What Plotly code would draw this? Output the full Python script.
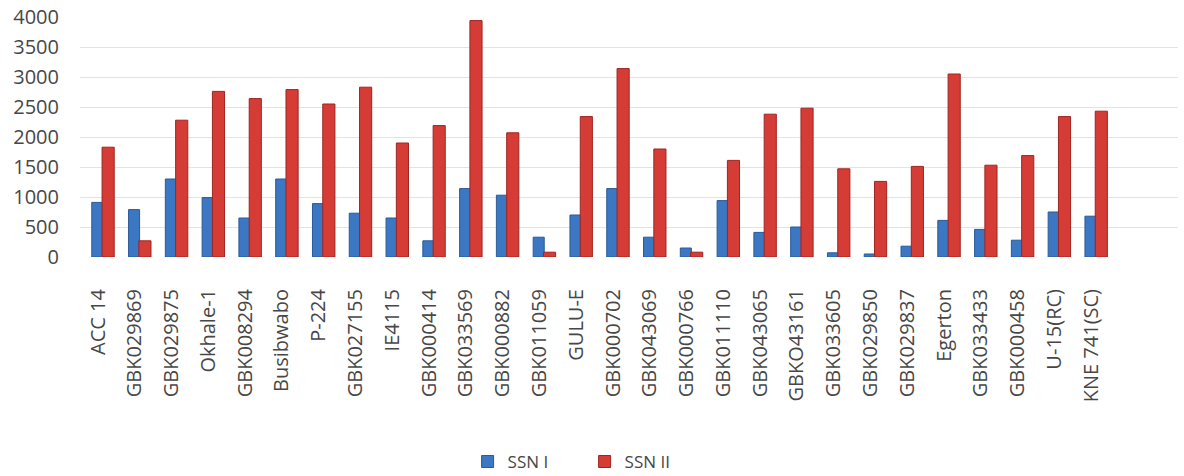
import plotly.graph_objects as go

# Genotypes on the category axis
genotypes = [
    "ACC 14", "GBK029869", "GBK029875", "Okhale-1", "GBK008294", "Busibwabo",
    "P-224", "GBK027155", "IE4115", "GBK000414", "GBK033569", "GBK000882",
    "GBK011059", "GULU-E", "GBK000702", "GBK043069", "GBK000766", "GBK011110",
    "GBK043065", "GBKO43161", "GBK033605", "GBK029850", "GBK029837", "Egerton",
    "GBK033433", "GBK000458", "U-15(RC)", "KNE 741(SC)",
]

# Values for each season
ssn_1 = [910, 790, 1300, 990, 650, 1300, 890, 730, 650, 270, 1140, 1030,
         330, 700, 1140, 330, 150, 940, 410, 500, 70, 50, 180, 610,
         460, 280, 750, 680]
ssn_2 = [1830, 270, 2280, 2760, 2640, 2790, 2550, 2830, 1900, 2190, 3940, 2070,
         80, 2340, 3140, 1800, 80, 1610, 2380, 2480, 1470, 1260, 1510, 3050,
         1530, 1690, 2340, 2430]

y_ticks = [0, 500, 1000, 1500, 2000, 2500, 3000, 3500, 4000]

font_family = "Open Sans, Liberation Sans, sans-serif"
text_color = "#474747"

fig = go.Figure()
fig.add_trace(go.Bar(
    name="SSN I", x=genotypes, y=ssn_1,
    marker=dict(color="#3b77c2", line=dict(color="#2a5a99", width=1)),
    width=0.3, offset=-0.17,
))
fig.add_trace(go.Bar(
    name="SSN II", x=genotypes, y=ssn_2,
    marker=dict(color="#d63c36", line=dict(color="#9e2420", width=1)),
    width=0.33, offset=0.11,
))

fig.update_layout(
    width=1184, height=476,
    margin=dict(l=80, r=6, t=17, b=219, autoexpand=False),
    paper_bgcolor="white", plot_bgcolor="white",
    barmode="overlay",
    font=dict(family=font_family, color=text_color),
    showlegend=True,
    legend=dict(
        orientation="h", x=0.353, xanchor="left", y=-0.854, yanchor="middle",
        font=dict(size=17, color=text_color), itemwidth=30,
        entrywidth=72, entrywidthmode="pixels",
        traceorder="normal",
    ),
    xaxis=dict(
        type="category", range=[-0.49, 29.36],
        tickangle=-90, tickfont=dict(size=20, color=text_color),
        showgrid=False, showline=False, ticks="", ticklabelstandoff=27,
    ),
    yaxis=dict(
        range=[0, 4000], tickvals=y_ticks,
        tickfont=dict(size=20, color=text_color),
        showgrid=True, gridcolor="#e3e3e3", gridwidth=1,
        zeroline=False, showline=False, ticks="", ticklabelstandoff=20,
    ),
)

fig.write_html("out.html")
